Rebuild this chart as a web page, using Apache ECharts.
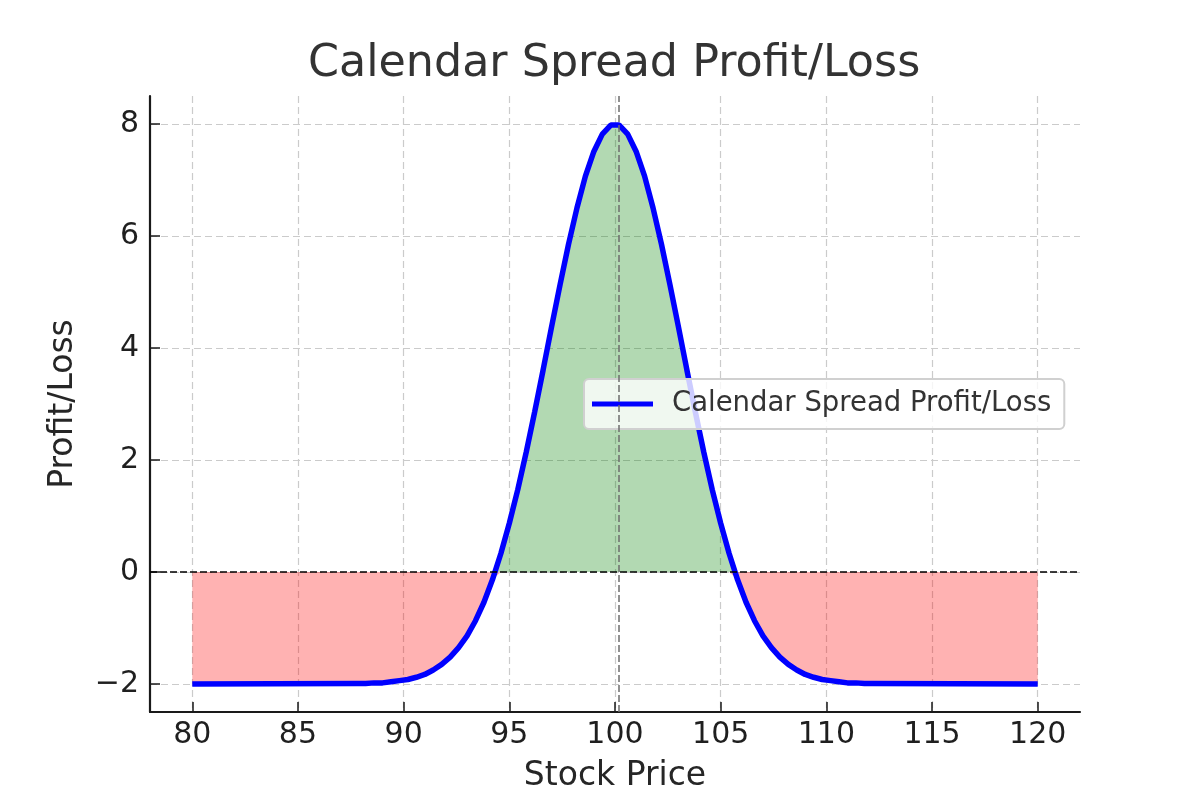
<!DOCTYPE html>
<html>
<head>
<meta charset="utf-8">
<script src="https://cdn.jsdelivr.net/npm/echarts@6/dist/echarts.min.js"></script>
</head>
<body style="margin: 0; background: #fff">
<div id="container" style="width: 1200px; height: 800px"></div>
<script>
// values
var price = [
  80, 87.8, 88.2, 88.6, 89.0, 89.4, 89.8, 90.2, 90.6, 91.0, 91.4, 91.8, 92.2, 92.6, 93.0, 93.4,
  93.8, 94.2, 94.6, 95.0, 95.4, 95.8, 96.2, 96.6, 97.0, 97.4, 97.8, 98.2, 98.6, 99.0, 99.4, 99.8,
  100.2, 100.6, 101.0, 101.4, 101.8, 102.2, 102.6, 103.0, 103.4, 103.8, 104.2, 104.6, 105.0, 105.4,
  105.8, 106.2, 106.6, 107.0, 107.4, 107.8, 108.2, 108.6, 109.0, 109.4, 109.8, 110.2, 110.6, 111.0,
  111.4, 111.8, 112.2, 120
];
var pnl = [
  -2.00, -1.99, -1.99, -1.98, -1.98, -1.96, -1.94, -1.92, -1.88, -1.83, -1.75, -1.65, -1.52, -1.35, -1.14, -0.87,
  -0.54, -0.14, 0.33, 0.87, 1.47, 2.14, 2.86, 3.61, 4.38, 5.13, 5.85, 6.50, 7.07, 7.51, 7.82, 7.98,
  7.98, 7.82, 7.51, 7.07, 6.50, 5.85, 5.13, 4.38, 3.61, 2.86, 2.14, 1.47, 0.87, 0.33,
  -0.14, -0.54, -0.87, -1.14, -1.35, -1.52, -1.65, -1.75, -1.83, -1.88, -1.92, -1.94, -1.96, -1.98,
  -1.98, -1.99, -1.99, -2.00
];
var peakPrice = 100.2;
var xTicks = [80, 85, 90, 95, 100, 105, 110, 115, 120];
var yTicks = [-2, 0, 2, 4, 6, 8];

var FONT = 'DejaVu Sans';
var seriesName = 'Calendar Spread Profit/Loss';

var linePts = price.map(function (p, i) { return [p, pnl[i]]; });
var gainPts = price.map(function (p, i) { return [p, Math.max(pnl[i], 0)]; });
var lossPts = price.map(function (p, i) { return [p, Math.min(pnl[i], 0)]; });

var gridLine = { show: true, lineStyle: { color: '#cbcbcb', width: 1.2, type: [7, 4] } };

var myChart = echarts.init(document.getElementById('container'), null, { renderer: 'canvas' });
var option = {
  animation: false,
  backgroundColor: '#fff',
  title: {
    text: 'Calendar Spread Profit/Loss',
    left: 308,
    top: 42,
    padding: 0,
    textStyle: { fontFamily: FONT, fontSize: 44.4, fontWeight: 'normal', color: '#333' }
  },
  legend: {
    data: [{ name: seriesName, icon: 'rect' }],
    left: 584,
    top: 379,
    padding: [11, 13, 11, 8],
    itemWidth: 61,
    itemHeight: 5,
    backgroundColor: 'rgba(255,255,255,0.8)',
    borderColor: '#d0d0d0',
    borderWidth: 2,
    borderRadius: 5,
    textStyle: { fontFamily: FONT, fontSize: 27.5, color: '#333', padding: [0, 0, 0, 14] }
  },
  grid: { left: 150, right: 120, top: 96, bottom: 88, outerBoundsMode: 'none' },
  xAxis: {
    type: 'value',
    min: 78,
    max: 122,
    name: 'Stock Price',
    nameLocation: 'middle',
    nameGap: 48,
    nameTextStyle: { fontFamily: FONT, fontSize: 33, color: '#262626' },
    axisLine: { show: true, onZero: false, lineStyle: { color: '#1a1a1a', width: 2.2 } },
    axisTick: { show: true, inside: true, length: 10, customValues: xTicks, lineStyle: { color: '#1a1a1a', width: 1.5 } },
    axisLabel: { customValues: xTicks, margin: 8, fontFamily: FONT, fontSize: 30, color: '#1f1f1f' },
    splitLine: gridLine
  },
  yAxis: {
    type: 'value',
    min: -2.5,
    max: 8.5,
    name: 'Profit/Loss',
    nameLocation: 'middle',
    nameRotate: 90,
    nameGap: 70,
    nameTextStyle: { fontFamily: FONT, fontSize: 33, color: '#262626' },
    axisLine: { show: true, onZero: false, lineStyle: { color: '#1a1a1a', width: 2.2 } },
    axisTick: { show: true, inside: true, length: 10, customValues: yTicks, lineStyle: { color: '#1a1a1a', width: 1.5 } },
    axisLabel: {
      customValues: yTicks, margin: 11, fontFamily: FONT, fontSize: 30, color: '#1f1f1f',
      formatter: function (v) { return String(v).replace('-', '\u2212'); }
    },
    splitLine: gridLine
  },
  series: [
    {
      name: 'gain',
      type: 'line',
      data: gainPts,
      symbol: 'none',
      silent: true,
      lineStyle: { width: 0, opacity: 0 },
      areaStyle: { color: 'rgba(0,128,0,0.3)', opacity: 1, origin: 0 },
      z: 1
    },
    {
      name: 'loss',
      type: 'line',
      data: lossPts,
      symbol: 'none',
      silent: true,
      lineStyle: { width: 0, opacity: 0 },
      areaStyle: { color: 'rgba(255,0,0,0.3)', opacity: 1, origin: 0 },
      z: 1
    },
    {
      name: 'refs',
      type: 'line',
      data: [],
      symbol: 'none',
      z: 2,
      markLine: {
        silent: true,
        symbol: 'none',
        label: { show: false },
        data: [
          { yAxis: 0, lineStyle: { color: '#000', width: 1.5, type: [7, 3] } },
          { xAxis: peakPrice, lineStyle: { color: '#6e6e6e', width: 1.5, type: [7, 3] } }
        ]
      }
    },
    {
      name: seriesName,
      type: 'line',
      data: linePts,
      symbol: 'none',
      color: '#0000ff',
      itemStyle: { color: '#0000ff' },
      lineStyle: { color: '#0000ff', width: 5.5 },
      z: 3
    }
  ]
};
myChart.setOption(option);
</script>
</body>
</html>
